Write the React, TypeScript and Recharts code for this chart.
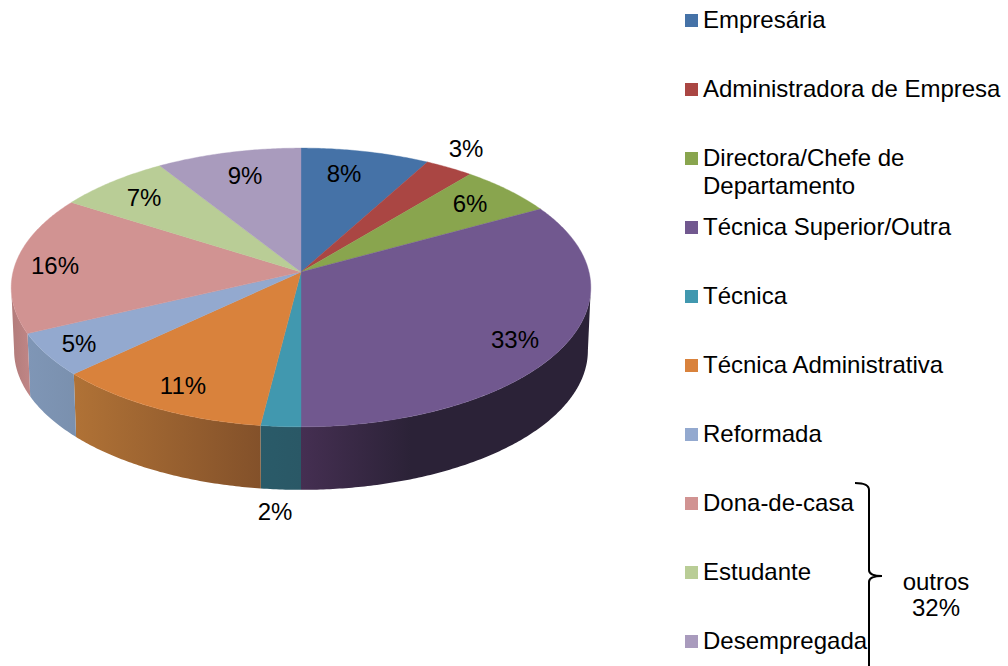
import React from 'react';
import { PieChart, Pie, Legend } from 'recharts';

const categories = [
  'Empresária',
  'Administradora de Empresa',
  'Directora/Chefe de Departamento',
  'Técnica Superior/Outra',
  'Técnica',
  'Técnica Administrativa',
  'Reformada',
  'Dona-de-casa',
  'Estudante',
  'Desempregada',
];
const shares = [8, 3, 6, 33, 2, 11, 5, 16, 7, 9];
const topColors = ['#4572A7', '#AA4643', '#89A54E', '#71588F', '#4198AF', '#D9823C', '#93A9CF', '#D19392', '#B9CD96', '#A99BBD'];
// side wall shading, left to right
const wallLeft = ['#34557d', '#7f3432', '#67793a', '#452f52', '#2a5b69', '#b07236', '#7f96b6', '#b27c7b', '#8b9a70', '#7f748e'];
const wallRight = ['#34557d', '#7f3432', '#67793a', '#2b2237', '#2a5866', '#83512a', '#7a90ae', '#c08686', '#8b9a70', '#7f748e'];
// where along the wall the right colour is reached
const wallTurn = [1, 1, 1, 0.38, 1, 1, 1, 1, 1, 1];

const WIDTH = 1008;
const HEIGHT = 666;
const FONT = '"Liberation Sans", Arial, sans-serif';

// fake 3D: a perspective squash of the flat circle
const SQUASH = 0.478;
const PERSP = 0.111;
const DEPTH = 63;
const BOTTOM_SHRINK = 0.99;

// label centres as Excel placed them
const labelSpots = [
  [344, 173], [466, 148], [470, 203], [515, 339], [275, 511],
  [183, 385], [79, 343], [55, 265], [144, 197], [245, 175],
];

const tableData = categories.map((name, i) => ({ name, value: shares[i], fill: topColors[i] }));

const project = (cx: number, cy: number, r: number, theta: number) => {
  const u = Math.sin(theta);
  const v = -Math.cos(theta);
  const w = 1 - PERSP * v;
  return { x: cx + (r * u) / w, y: cy + (r * SQUASH * v) / w };
};

const arcPoints = (cx: number, cy: number, r: number, from: number, to: number) => {
  const pts = [];
  const steps = Math.max(2, Math.ceil((to - from) / 0.01));
  for (let i = 0; i <= steps; i++) pts.push(project(cx, cy, r, from + ((to - from) * i) / steps));
  return pts;
};

const toPath = (pts: { x: number; y: number }[]) =>
  pts.map((p, i) => `${i ? 'L' : 'M'}${p.x.toFixed(2)},${p.y.toFixed(2)}`).join(' ') + ' Z';

const Slice3D = (props: any) => {
  const { cx, cy, outerRadius, startAngle, endAngle, name, fill } = props;
  const idx = categories.indexOf(name);
  const from = ((90 - startAngle) * Math.PI) / 180;
  const to = ((90 - endAngle) * Math.PI) / 180;
  const rim = arcPoints(cx, cy, outerRadius, from, to);

  // only the part of the rim that faces the viewer gets a wall
  const limit = Math.acos(-PERSP);
  const wallFrom = Math.max(from, limit);
  const wallTo = Math.min(to, 2 * Math.PI - limit);
  let wall = null;
  if (wallTo > wallFrom) {
    const upper = arcPoints(cx, cy, outerRadius, wallFrom, wallTo);
    const lower = upper
      .map((p) => ({ x: cx + (p.x - cx) * BOTTOM_SHRINK, y: p.y + DEPTH }))
      .reverse();
    wall = (
      <>
        <defs>
          <linearGradient id={`wall-${idx}`} x1="0" y1="0" x2="1" y2="0">
            <stop offset="0" stopColor={wallLeft[idx]} />
            <stop offset={wallTurn[idx]} stopColor={wallRight[idx]} />
          </linearGradient>
        </defs>
        <path d={toPath([...upper, ...lower])} fill={`url(#wall-${idx})`} stroke="none" />
      </>
    );
  }

  return (
    <g>
      {wall}
      <path d={toPath([{ x: cx, y: cy }, ...rim])} fill={fill} stroke={fill} strokeWidth={0.4} />
    </g>
  );
};

const renderLabel = (props: any) => {
  const spot = labelSpots[props.index];
  return (
    <text x={spot[0]} y={spot[1]} textAnchor="middle" dominantBaseline="central" fill="#000" fontSize={24} fontFamily={FONT}>
      {`${props.value}%`}
    </text>
  );
};

const LegendList = ({ payload }: any) => (
  <div style={{ fontFamily: FONT, fontSize: 24, lineHeight: '28px', color: '#000' }}>
    {(payload || []).map((item: any) => (
      <div key={item.value} style={{ height: 69, display: 'flex', alignItems: 'flex-start' }}>
        <span style={{ width: 13, height: 13, background: item.color, marginTop: 8, marginRight: 5, flex: 'none' }} />
        <span style={{ width: 305 }}>{item.value}</span>
      </div>
    ))}
  </div>
);

export default function App() {
  return (
    <div style={{ position: 'absolute', left: 0, top: 0, width: WIDTH, height: HEIGHT, overflow: 'hidden', background: '#fff' }}>
      <PieChart width={WIDTH} height={HEIGHT} margin={{ top: 0, right: 0, bottom: 0, left: 0 }}>
        <Pie
          data={tableData}
          dataKey="value"
          nameKey="name"
          cx={301}
          cy={272}
          outerRadius={288}
          startAngle={90}
          endAngle={-270}
          stroke="none"
          shape={Slice3D}
          label={renderLabel}
          labelLine={false}
          isAnimationActive={false}
        />
        <Legend
          layout="vertical"
          align="right"
          verticalAlign="top"
          itemSorter={null}
          content={<LegendList />}
          wrapperStyle={{ left: 685, top: 6, width: 323, right: 'auto' }}
        />
      </PieChart>
      {/* bracket grouping the last three categories */}
      <svg width={WIDTH} height={HEIGHT} style={{ position: 'absolute', left: 0, top: 0, pointerEvents: 'none' }}>
        <path
          d="M855,483 Q869,483 869,490 L869,570 Q869,576 882,576 Q869,576 869,582 L869,666"
          fill="none"
          stroke="#000"
          strokeWidth={2}
        />
        <text x={936} y={581} textAnchor="middle" dominantBaseline="central" fontSize={24} fontFamily={FONT}>outros</text>
        <text x={936} y={607} textAnchor="middle" dominantBaseline="central" fontSize={24} fontFamily={FONT}>32%</text>
      </svg>
    </div>
  );
}
